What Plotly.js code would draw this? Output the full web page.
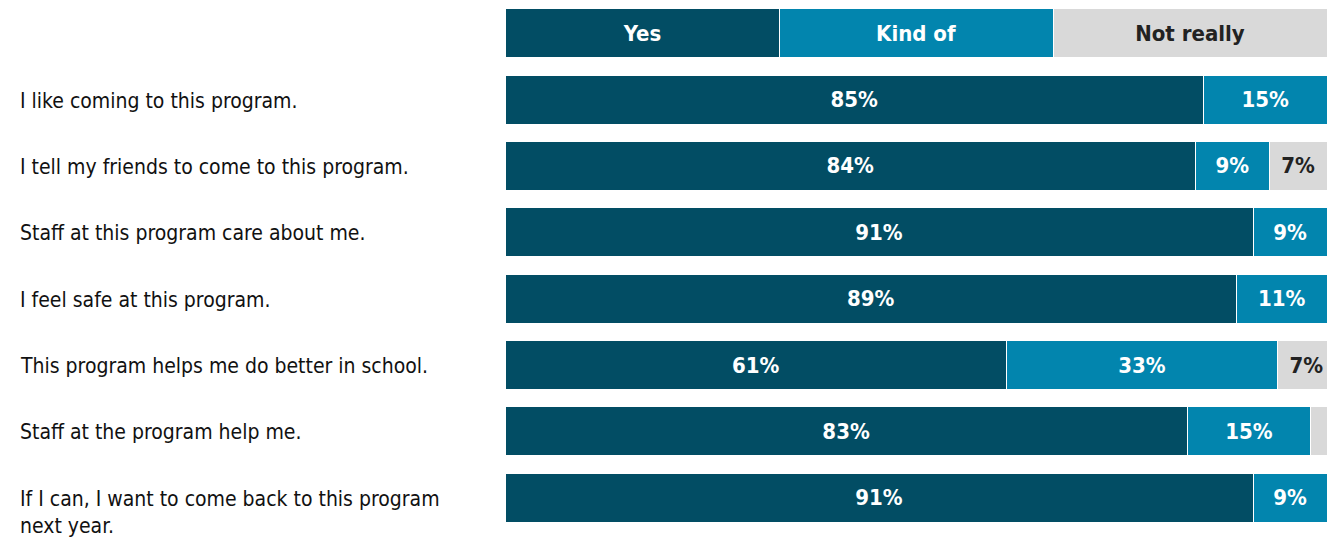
<!DOCTYPE html>
<html>
<head>
<meta charset="utf-8">
<script src="https://cdn.plot.ly/plotly-3.0.1.min.js"></script>
<style>html,body{margin:0;padding:0;background:#fff;}#chart{width:1327px;height:546px;}</style>
</head>
<body>
<div id="chart"></div>
<script>
// ---- data ----
const statements = [
  "I like coming to this program.",
  "I tell my friends to come to this program.",
  "Staff at this program care about me.",
  "I feel safe at this program.",
  "This program helps me do better in school.",
  "Staff at the program help me.",
  "If I can, I want to come back to this program<br>next year."
];
const seriesNames = ["Yes", "Kind of", "Not really"];
const yesValues      = [85, 84, 91, 89, 61, 83, 91];
const kindOfValues   = [15,  9,  9, 11, 33, 15,  9];
const notReallyValues= [ 0,  7,  0,  0,  7,  2,  0];

// ---- styling ----
const colors = ["#024d64", "#0285ae", "#d9d9d9"];
const textColors = ["#ffffff", "#ffffff", "#222222"];
const FONT = "'DejaVu Sans Condensed', 'Liberation Sans Narrow', sans-serif";
const HEADER = "header";

const rowIds = statements.map((s, i) => "r" + i);
const categoryOrder = [HEADER].concat(rowIds);
const seriesValues = [yesValues, kindOfValues, notReallyValues];

const traces = [];
// header row (legend drawn as equal bars)
seriesNames.forEach((name, k) => {
  traces.push({
    type: "bar", orientation: "h",
    y: [HEADER], x: [100 / seriesNames.length],
    text: [name], textposition: "inside", insidetextanchor: "middle",
    textfont: {family: FONT, size: 22, color: textColors[k], weight: "bold"},
    marker: {color: colors[k], line: {color: "#ffffff", width: 1}},
    showlegend: false, hoverinfo: "skip", cliponaxis: true
  });
});
// data rows
seriesValues.forEach((vals, k) => {
  traces.push({
    type: "bar", orientation: "h", name: seriesNames[k],
    y: rowIds, x: vals,
    text: vals.map(v => v >= 5 ? v + "%" : ""),
    textposition: "inside", insidetextanchor: "middle",
    textfont: {family: FONT, size: 22, color: textColors[k], weight: "bold"},
    marker: {color: colors[k], line: {color: "#ffffff", width: 1}},
    showlegend: false, hoverinfo: "skip", cliponaxis: true
  });
});

const annotations = statements.map((s, i) => ({
  xref: "paper", yref: "y", x: -0.592, y: rowIds[i],
  xanchor: "left", yanchor: "top", yshift: 13, align: "left",
  text: s, showarrow: false,
  font: {family: FONT, size: 21, color: "#111111"}
}));

const layout = {
  width: 1327, height: 546,
  margin: {l: 505, r: 0, t: 0, b: 15, pad: 0},
  paper_bgcolor: "#ffffff", plot_bgcolor: "#ffffff",
  barmode: "stack", bargap: 0.262,
  xaxis: {range: [0, 100], visible: false, fixedrange: true},
  yaxis: {type: "category", categoryorder: "array", categoryarray: categoryOrder,
          autorange: "reversed", showticklabels: false, showgrid: false,
          zeroline: false, showline: false, ticks: "", fixedrange: true},
  annotations: annotations,
  hovermode: false,
  font: {family: FONT}
};

Plotly.newPlot("chart", traces, layout, {displayModeBar: false, staticPlot: true});
</script>
</body>
</html>
